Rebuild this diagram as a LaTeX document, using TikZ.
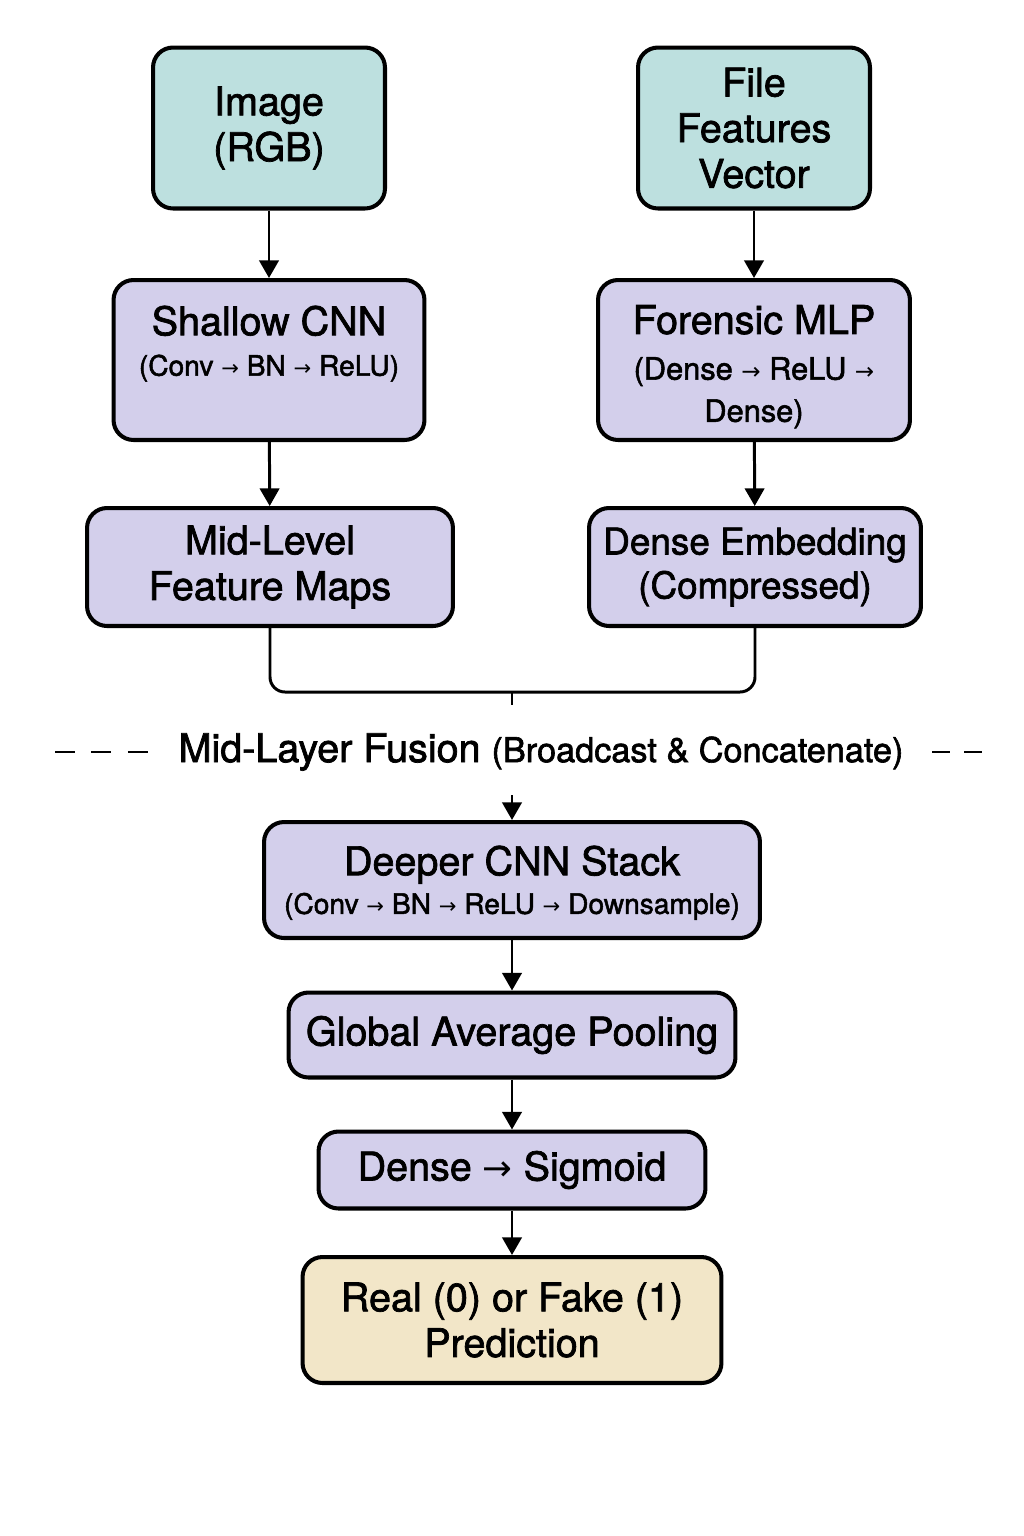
\documentclass[tikz,border=0pt]{standalone}
\usepackage{fontspec}
\setmainfont{TeX Gyre Heros}[UprightFeatures={FakeBold=1.8}]
\newfontfamily\symfont{DejaVu Sans}
\usepackage{xcolor}
\usepackage{tikz}
\usetikzlibrary{arrows.meta}
\usetikzlibrary{positioning}

\definecolor{tealbox}{HTML}{BDE0DF}
\definecolor{lavbox}{HTML}{D3CFEB}
\definecolor{beigebox}{HTML}{F2E6C8}

\newcommand{\ttl}{\fontsize{22.5}{26}\selectfont}
\newcommand{\subt}{\fontsize{16}{20}\selectfont}
\newcommand{\nxt}{{\symfont\scalebox{0.75}{→}}}

\tikzset{
  blk/.style={draw=black, line width=2.3pt, rounded corners=0.4cm, align=center, font=\ttl, inner sep=2pt},
  inbox/.style={blk, fill=tealbox},
  netbox/.style={blk, fill=lavbox},
  outbox/.style={blk, fill=beigebox},
  flow/.style={line width=1.7pt, -{Triangle[length=10pt,width=11pt]}},
  joinline/.style={line width=1.7pt, rounded corners=0.3cm},
  dashrule/.style={line width=1.4pt, dash pattern=on 0.4cm off 0.33cm}
}

\begin{document}
\begin{tikzpicture}[x=0.02cm, y=-0.02cm]

\useasboundingbox[fill=white] (0,0) rectangle (1024,1536);

% Nodos de entrada
\node[inbox, minimum width=4.64cm, minimum height=3.22cm] (image) at (269,128) {Image\\(RGB)};
\node[inbox, minimum width=4.64cm, minimum height=3.22cm] (filefeat) at (754,128) {File\\Features\\Vector};

% Ramas
\node[netbox, minimum width=6.22cm, minimum height=3.2cm] (shallow) at (269,360)
  {Shallow CNN\\[-3pt]{\subt (Conv \nxt{} BN \nxt{} ReLU)}\\[-4pt]\mbox{}};
\node[netbox, minimum width=6.24cm, minimum height=3.2cm] (mlp) at (754,360)
  {\mbox{}\\[-2pt]Forensic MLP\\{\fontsize{17.5}{22}\selectfont (Dense \nxt{} ReLU \nxt{}}\\[-2pt]{\fontsize{17.5}{22}\selectfont Dense)}};
\node[netbox, minimum width=7.32cm, minimum height=2.36cm] (midlevel) at (270,567) {Mid-Level\\Feature Maps};
\node[netbox, minimum width=6.64cm, minimum height=2.36cm, font=\fontsize{21}{25}\selectfont] (embed) at (755,567) {Dense Embedding\\(Compressed)};

% Fusion
\coordinate (joint) at (512,692);
\coordinate (jointend) at (512,705);
\coordinate (fusein) at (512,795);
\node (fusion) at (541,752) {\ttl Mid-Layer Fusion {\fontsize{19.5}{23}\selectfont (Broadcast \& Concatenate)}};

% Tronco comun
\node[netbox, minimum width=9.92cm, minimum height=2.32cm] (deeper) at (512,880)
  {\mbox{}\\[-6pt]Deeper CNN Stack\\[-4pt]{\subt (Conv \nxt{} BN \nxt{} ReLU \nxt{} Downsample)}};
\node[netbox, minimum width=8.94cm, minimum height=1.7cm] (gap) at (512,1035) {Global Average Pooling};
\node[netbox, minimum width=7.74cm, minimum height=1.54cm] (sigmoid) at (512,1170) {Dense {\scalebox{1.2}{\nxt}} Sigmoid};
\node[outbox, minimum width=8.38cm, minimum height=2.52cm] (pred) at (512,1320) {Real (0) or Fake (1)\\Prediction};

% Aristas
\draw[flow] (image) -- (shallow);
\draw[flow] (shallow) -- (midlevel);
\draw[flow] (filefeat) -- (mlp);
\draw[flow] (mlp) -- (embed);
\draw[joinline] (midlevel.south) |- (joint) -| (embed.south);
\draw[line width=1.7pt] (joint) -- (jointend);
\draw[flow] (fusein) -- (deeper);
\draw[flow] (deeper) -- (gap);
\draw[flow] (gap) -- (sigmoid);
\draw[flow] (sigmoid) -- (pred);

% Trazos discontinuos
\draw[dashrule] (55,752) -- (148,752);
\draw[dashrule, dash pattern=on 0.36cm off 0.28cm] (932,752) -- (982,752);

\end{tikzpicture}
\end{document}
